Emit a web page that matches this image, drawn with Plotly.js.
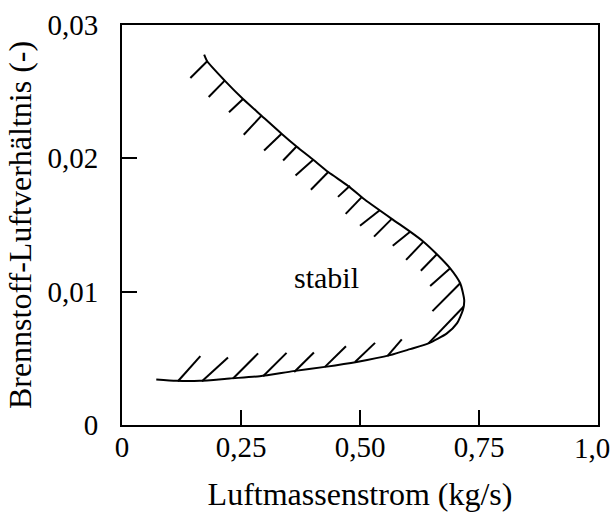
<!DOCTYPE html>
<html><head><meta charset="utf-8">
<script src="https://cdn.plot.ly/plotly-3.0.1.min.js"></script>
<style>html,body{margin:0;padding:0;background:#fff}</style>
</head><body><div id="chart" style="width:613px;height:512px"></div>
<script>
// Stability boundary curve (top end -> nose -> bottom-left end)
const curveX = [0.1726, 0.179, 0.2158, 0.2543, 0.2931, 0.3352, 0.3667, 0.4017, 0.4333, 0.4720, 0.4964, 0.5105, 0.5667, 0.6053, 0.6333, 0.6615, 0.6895, 0.7105, 0.7189, 0.7162, 0.7036, 0.6825, 0.6438, 0.6053, 0.5632, 0.4931, 0.4263, 0.3596, 0.2895, 0.2263, 0.1632, 0.1141, 0.0720];
const curveY = [0.02778, 0.02728, 0.02583, 0.02445, 0.02320, 0.02185, 0.02089, 0.01989, 0.01897, 0.01801, 0.01731, 0.01689, 0.01546, 0.01450, 0.01375, 0.01281, 0.01175, 0.01063, 0.00937, 0.00862, 0.00762, 0.00687, 0.00612, 0.00569, 0.00524, 0.00473, 0.00436, 0.00404, 0.00366, 0.00349, 0.00331, 0.00331, 0.00341];

// Hatch marks: start on curve (x0,y0), end (x1,y1)
const hatchX0 = [0.179, 0.2158, 0.2543, 0.2931, 0.3352, 0.3667, 0.4017, 0.4333, 0.4789, 0.5042, 0.5421, 0.5667, 0.6053, 0.6333, 0.6615, 0.6895, 0.7105, 0.7175,
                 0.5575, 0.4895, 0.4263, 0.3617, 0.2964, 0.2333, 0.1680, 0.1175];
const hatchY0 = [0.02728, 0.02583, 0.02445, 0.02320, 0.02185, 0.02089, 0.01989, 0.01897, 0.01794, 0.01711, 0.01613, 0.01546, 0.01450, 0.01375, 0.01281, 0.01175, 0.01063, 0.00887,
                 0.00516, 0.00473, 0.00436, 0.00398, 0.00366, 0.00349, 0.00328, 0.00328];
const hatchX1 = [0.1436, 0.1821, 0.2248, 0.2558, 0.2985, 0.3385, 0.3646, 0.3968, 0.4537, 0.4699, 0.5000, 0.5295, 0.5688, 0.5968, 0.6278, 0.6474, 0.6522, 0.6438,
                 0.5878, 0.5316, 0.4705, 0.4032, 0.3457, 0.2859, 0.2227, 0.1646];
const hatchY1 = [0.02603, 0.02460, 0.02345, 0.02177, 0.02059, 0.01984, 0.01871, 0.01764, 0.01711, 0.01583, 0.01495, 0.01413, 0.01345, 0.01238, 0.01157, 0.01042, 0.00854, 0.00612,
                 0.00642, 0.00616, 0.00591, 0.00544, 0.00541, 0.00537, 0.00507, 0.00516];

const xTickVals = [0, 0.25, 0.5, 0.75, 1.0];
const xTickText = ["0", "0,25", "0,50", "0,75", "1,0"];
const yTickVals = [0, 0.01, 0.02, 0.03];
const yTickText = ["0", "0,01", "0,02", "0,03"];

const regionLabel = "stabil";
const regionLabelX = 0.43;
const regionLabelY = 0.0111;

const xTitle = "Luftmassenstrom (kg/s)";
const yTitle = "Brennstoff-Luftverhältnis (-)";

const hx = [], hy = [];
for (let i = 0; i < hatchX0.length; i++) {
  hx.push(hatchX0[i], hatchX1[i], null);
  hy.push(hatchY0[i], hatchY1[i], null);
}

const FAM = "Liberation Serif";
function f(size) { return {family: FAM, size: size, color: "#000"}; }

// last x tick label sits at the right edge: drawn as an annotation so it stays inside the page
const nX = xTickVals.length;
const axisTickText = xTickText.map((t, i) => (i === nX - 1 ? "" : t));

const traces = [
  {x: curveX, y: curveY, mode: "lines", type: "scatter",
   line: {color: "#000", width: 2, shape: "spline", smoothing: 0.6}, hoverinfo: "skip"},
  {x: hx, y: hy, mode: "lines", type: "scatter",
   line: {color: "#000", width: 2}, hoverinfo: "skip", connectgaps: false}
];

const layout = {
  width: 613, height: 512,
  margin: {l: 122, r: 15, t: 25, b: 87, pad: 0},
  paper_bgcolor: "#fff", plot_bgcolor: "#fff",
  showlegend: false,
  font: f(29),
  xaxis: {
    range: [0, 1], tickvals: xTickVals, ticktext: axisTickText,
    ticks: "inside", ticklen: 15, tickwidth: 2, tickcolor: "#000",
    showline: true, linecolor: "#000", linewidth: 2, mirror: true,
    showgrid: false, zeroline: false,
    tickfont: f(29),
    ticklabelstandoff: -5,
    title: {text: xTitle, font: f(32), standoff: 22}
  },
  yaxis: {
    range: [0, 0.03], tickvals: yTickVals, ticktext: yTickText,
    ticks: "inside", ticklen: 15, tickwidth: 2, tickcolor: "#000",
    showline: true, linecolor: "#000", linewidth: 2, mirror: true,
    showgrid: false, zeroline: false,
    tickfont: f(29),
    ticklabelstandoff: 16,
    ticklabeloverflow: "allow",
    title: {text: yTitle, font: f(32), standoff: 6}
  },
  annotations: [{
    x: regionLabelX, y: regionLabelY, xref: "x", yref: "y",
    text: regionLabel, showarrow: false,
    font: f(30)
  }, {
    x: xTickVals[nX - 1], y: 0, xref: "x", yref: "paper",
    text: xTickText[nX - 1], showarrow: false,
    xanchor: "right", yanchor: "middle", xshift: 13, yshift: -23,
    borderpad: 0, font: f(29)
  }]
};

Plotly.newPlot("chart", traces, layout, {staticPlot: true, displayModeBar: false});
</script></body></html>
